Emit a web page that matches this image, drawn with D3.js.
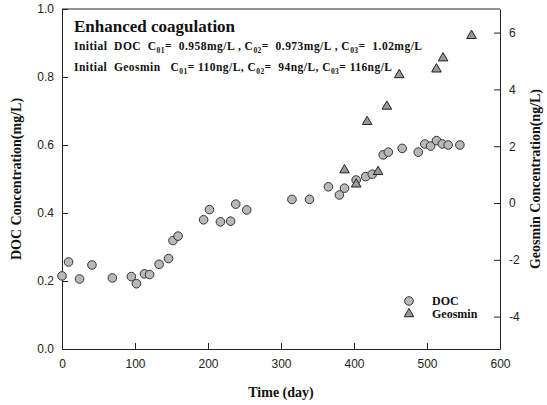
<!DOCTYPE html>
<html>
<head>
<meta charset="utf-8">
<script src="https://cdn.jsdelivr.net/npm/d3@7"></script>
<style>
  body { margin: 0; background: #fff; }
  svg { display: block; }
  .tick text { font-family: "Liberation Sans", Arial, sans-serif; font-size: 12px; fill: #222; }
  .axis path, .axis line { stroke: #222; }
  .serif { font-family: "Liberation Serif", "Times New Roman", serif; font-weight: bold; fill: #111; white-space: pre; }
</style>
</head>
<body>
<div id="chart"></div>
<script>
// DOC (mg/L) vs time (day)
const docDays = [0, 9, 24, 41, 69, 95, 102, 113, 120, 133, 146, 152, 159,
  194, 202, 217, 231, 238, 253, 315, 339, 365, 380, 387, 403, 416, 425,
  440, 447, 466, 488, 497, 505, 513, 521, 529, 545];
const docVals = [0.215, 0.256, 0.206, 0.247, 0.209, 0.213, 0.192, 0.221, 0.219, 0.249, 0.266, 0.319, 0.332,
  0.38, 0.41, 0.374, 0.376, 0.426, 0.409, 0.44, 0.44, 0.477, 0.453, 0.473, 0.497, 0.507, 0.514,
  0.571, 0.579, 0.59, 0.579, 0.603, 0.597, 0.613, 0.603, 0.6, 0.6];
// Geosmin (ng/L) vs time (day)
const geoDays = [387, 403, 418, 433, 445, 462, 513, 522, 561];
const geoVals = [1.16, 0.66, 2.86, 1.10, 3.4, 4.51, 4.71, 5.10, 5.89];

const xTicks = [0, 100, 200, 300, 400, 500, 600];
const yTicks = [0, 0.2, 0.4, 0.6, 0.8, 1.0];
const y2Ticks = [-4, -2, 0, 2, 4, 6];

const W = 547, H = 405;
const m = { l: 62, r: 47, t: 9, b: 56 };
const svg = d3.select("#chart").append("svg").attr("width", W).attr("height", H);

const x = d3.scaleLinear().domain([0, 600]).range([m.l, W - m.r]);
const y = d3.scaleLinear().domain([0, 1]).range([H - m.b, m.t]);
const y2 = d3.scaleLinear().domain([-5.14, 6.83]).range([H - m.b, m.t]);

// frame top
svg.append("line").attr("x1", m.l).attr("x2", W - m.r).attr("y1", m.t).attr("y2", m.t)
  .attr("stroke", "#222");

svg.append("g").attr("class", "axis").attr("transform", `translate(0,${H - m.b})`)
  .call(d3.axisBottom(x).tickValues(xTicks).tickFormat(d => String(d)).tickSizeInner(-6).tickSizeOuter(0).tickPadding(10));
svg.append("g").attr("class", "axis").attr("transform", `translate(${m.l},0)`)
  .call(d3.axisLeft(y).tickValues(yTicks).tickFormat(d => d.toFixed(1)).tickSizeInner(-6).tickSizeOuter(0).tickPadding(8));
svg.append("g").attr("class", "axis").attr("transform", `translate(${W - m.r},0)`)
  .call(d3.axisRight(y2).tickValues(y2Ticks).tickFormat(d => String(d)).tickSizeInner(-6).tickSizeOuter(0).tickPadding(9));

// axis titles
svg.append("text").attr("class", "serif").attr("font-size", 14)
  .attr("x", (m.l + W - m.r) / 2).attr("y", 397).attr("text-anchor", "middle").text("Time (day)");
svg.append("text").attr("class", "serif").attr("font-size", 14)
  .attr("transform", `translate(21,${(m.t + H - m.b) / 2}) rotate(-90)`)
  .attr("text-anchor", "middle").text("DOC Concentration(mg/L)");
svg.append("text").attr("class", "serif").attr("font-size", 14)
  .attr("transform", `translate(540,${(m.t + H - m.b) / 2}) rotate(-90)`)
  .attr("text-anchor", "middle").text("Geosmin Concentration(ng/L)");

// annotation
svg.append("text").attr("class", "serif").attr("font-size", 17).attr("x", 74).attr("y", 32)
  .text("Enhanced coagulation");

function note(yy, len, parts) {
  const t = svg.append("text").attr("class", "serif").attr("font-size", 11.5)
    .attr("x", 74).attr("y", yy).attr("textLength", len).attr("lengthAdjust", "spacing");
  parts.forEach(p => {
    if (p.sub) {
      t.append("tspan").text("C");
      t.append("tspan").attr("font-size", 7.5).attr("dy", 3).text(p.sub);
      t.append("tspan").attr("dy", -3).text(p.t);
    } else {
      t.append("tspan").text(p.t);
    }
  });
}
note(50, 348, [
  { t: "Initial  DOC  " },
  { sub: "01", t: "=  0.958mg/L , " },
  { sub: "02", t: "=  0.973mg/L , " },
  { sub: "03", t: "=  1.02mg/L" }
]);
note(71, 318, [
  { t: "Initial  Geosmin   " },
  { sub: "01", t: "= 110ng/L, " },
  { sub: "02", t: "=  94ng/L, " },
  { sub: "03", t: "= 116ng/L" }
]);

// markers
const tri = d3.symbol().type(d3.symbolTriangle).size(40);
const doc = docDays.map((d, i) => ({ d, v: docVals[i] }));
const geo = geoDays.map((d, i) => ({ d, v: geoVals[i] }));

svg.append("g").selectAll("circle").data(doc).join("circle")
  .attr("cx", p => x(p.d)).attr("cy", p => y(p.v)).attr("r", 4.3)
  .attr("fill", "#b8b8b8").attr("stroke", "#333").attr("stroke-width", 1);
svg.append("g").selectAll("path").data(geo).join("path")
  .attr("d", tri).attr("transform", p => `translate(${x(p.d)},${y2(p.v)})`)
  .attr("fill", "#999").attr("stroke", "#222").attr("stroke-width", 1);

// legend
svg.append("circle").attr("cx", 409).attr("cy", 301).attr("r", 4.3)
  .attr("fill", "#b8b8b8").attr("stroke", "#333");
svg.append("path").attr("d", tri).attr("transform", "translate(409,314)")
  .attr("fill", "#999").attr("stroke", "#222");
svg.append("text").attr("class", "serif").attr("font-size", 12).attr("x", 432).attr("y", 305).text("DOC");
svg.append("text").attr("class", "serif").attr("font-size", 12).attr("x", 432).attr("y", 318).text("Geosmin");
</script>
</body>
</html>
